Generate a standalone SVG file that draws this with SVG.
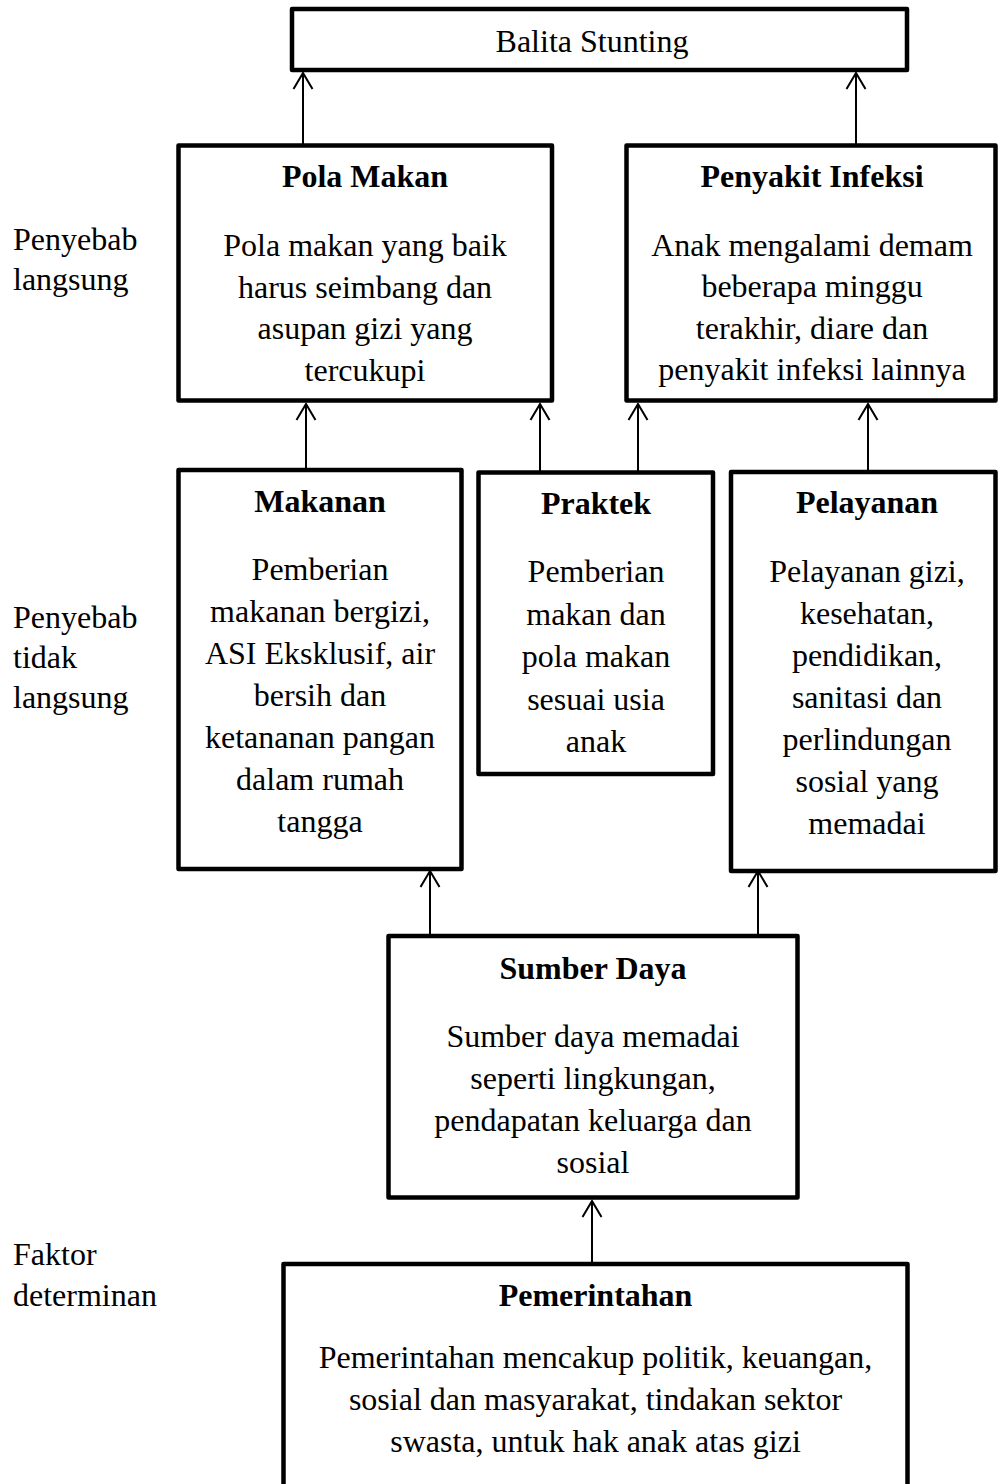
<svg xmlns="http://www.w3.org/2000/svg" width="998" height="1484" viewBox="0 0 998 1484">
<style>
  .box { fill: #fff; stroke: #000; stroke-width: 4.5; stroke-linejoin: round; }
  text { font-family: "Liberation Serif", "Times New Roman", serif; font-size: 32px; fill: #000; }
  .t { text-anchor: middle; font-weight: bold; }
  .b { text-anchor: middle; }
  .conn line { stroke: #000; stroke-width: 2; }
</style>
<defs>
  <marker id="arr" markerUnits="userSpaceOnUse" orient="auto" overflow="visible" markerWidth="1" markerHeight="1" refX="0" refY="0">
    <path d="M-16,-9.5 L0,0 L-16,9.5" fill="none" stroke="#000" stroke-width="2"/>
  </marker>
</defs>
<rect width="998" height="1484" fill="#fff"/>

<g id="labels">
  <text x="13" y="250">Penyebab</text>
  <text x="13" y="290">langsung</text>
  <text x="13" y="628">Penyebab</text>
  <text x="13" y="668">tidak</text>
  <text x="13" y="708">langsung</text>
  <text x="13" y="1265">Faktor</text>
  <text x="13" y="1306">determinan</text>
</g>

<g class="conn" id="connectors">
  <line x1="303" y1="145" x2="303" y2="73" marker-end="url(#arr)"/>
  <line x1="856" y1="145" x2="856" y2="73" marker-end="url(#arr)"/>
  <line x1="306" y1="470" x2="306" y2="404" marker-end="url(#arr)"/>
  <line x1="540" y1="472" x2="540" y2="404" marker-end="url(#arr)"/>
  <line x1="638" y1="472" x2="638" y2="404" marker-end="url(#arr)"/>
  <line x1="868" y1="472" x2="868" y2="404" marker-end="url(#arr)"/>
  <line x1="430" y1="936" x2="430" y2="871" marker-end="url(#arr)"/>
  <line x1="758" y1="936" x2="758" y2="871" marker-end="url(#arr)"/>
  <line x1="592" y1="1264" x2="592" y2="1201" marker-end="url(#arr)"/>
</g>

<g id="balita">
  <rect class="box" x="292" y="9" width="615" height="61"/>
  <text class="b" x="592" y="52">Balita Stunting</text>
</g>

<g id="pola-makan">
  <rect class="box" x="178.5" y="145.5" width="373.5" height="255"/>
  <text class="t" x="365" y="187">Pola Makan</text>
  <text class="b" x="365" y="256">Pola makan yang baik</text>
  <text class="b" x="365" y="297.5">harus seimbang dan</text>
  <text class="b" x="365" y="339">asupan gizi yang</text>
  <text class="b" x="365" y="380.5">tercukupi</text>
</g>

<g id="penyakit-infeksi">
  <rect class="box" x="626.5" y="145.5" width="369" height="255"/>
  <text class="t" x="812" y="187">Penyakit Infeksi</text>
  <text class="b" x="812" y="255.5">Anak mengalami demam</text>
  <text class="b" x="812" y="297">beberapa minggu</text>
  <text class="b" x="812" y="338.5">terakhir, diare dan</text>
  <text class="b" x="812" y="380">penyakit infeksi lainnya</text>
</g>

<g id="makanan">
  <rect class="box" x="178.5" y="470" width="283" height="399"/>
  <text class="t" x="320" y="512">Makanan</text>
  <text class="b" x="320" y="580">Pemberian</text>
  <text class="b" x="320" y="622">makanan bergizi,</text>
  <text class="b" x="320" y="664">ASI Eksklusif, air</text>
  <text class="b" x="320" y="706">bersih dan</text>
  <text class="b" x="320" y="748">ketananan pangan</text>
  <text class="b" x="320" y="790">dalam rumah</text>
  <text class="b" x="320" y="832">tangga</text>
</g>

<g id="praktek">
  <rect class="box" x="478.5" y="472.5" width="234.5" height="301.5"/>
  <text class="t" x="596" y="513.5">Praktek</text>
  <text class="b" x="596" y="582">Pemberian</text>
  <text class="b" x="596" y="624.5">makan dan</text>
  <text class="b" x="596" y="667">pola makan</text>
  <text class="b" x="596" y="709.5">sesuai usia</text>
  <text class="b" x="596" y="752">anak</text>
</g>

<g id="pelayanan">
  <rect class="box" x="731" y="472" width="264.5" height="399"/>
  <text class="t" x="867" y="513">Pelayanan</text>
  <text class="b" x="867" y="582">Pelayanan gizi,</text>
  <text class="b" x="867" y="624">kesehatan,</text>
  <text class="b" x="867" y="666">pendidikan,</text>
  <text class="b" x="867" y="708">sanitasi dan</text>
  <text class="b" x="867" y="750">perlindungan</text>
  <text class="b" x="867" y="792">sosial yang</text>
  <text class="b" x="867" y="834">memadai</text>
</g>

<g id="sumber-daya">
  <rect class="box" x="388.5" y="936" width="409" height="261.5"/>
  <text class="t" x="593" y="978.5">Sumber Daya</text>
  <text class="b" x="593" y="1047">Sumber daya memadai</text>
  <text class="b" x="593" y="1089">seperti lingkungan,</text>
  <text class="b" x="593" y="1131">pendapatan keluarga dan</text>
  <text class="b" x="593" y="1173">sosial</text>
</g>

<g id="pemerintahan">
  <rect class="box" x="283.5" y="1264" width="624" height="240"/>
  <text class="t" x="595.5" y="1306">Pemerintahan</text>
  <text class="b" x="595.5" y="1368">Pemerintahan mencakup politik, keuangan,</text>
  <text class="b" x="595.5" y="1410">sosial dan masyarakat, tindakan sektor</text>
  <text class="b" x="595.5" y="1452">swasta, untuk hak anak atas gizi</text>
</g>
</svg>
